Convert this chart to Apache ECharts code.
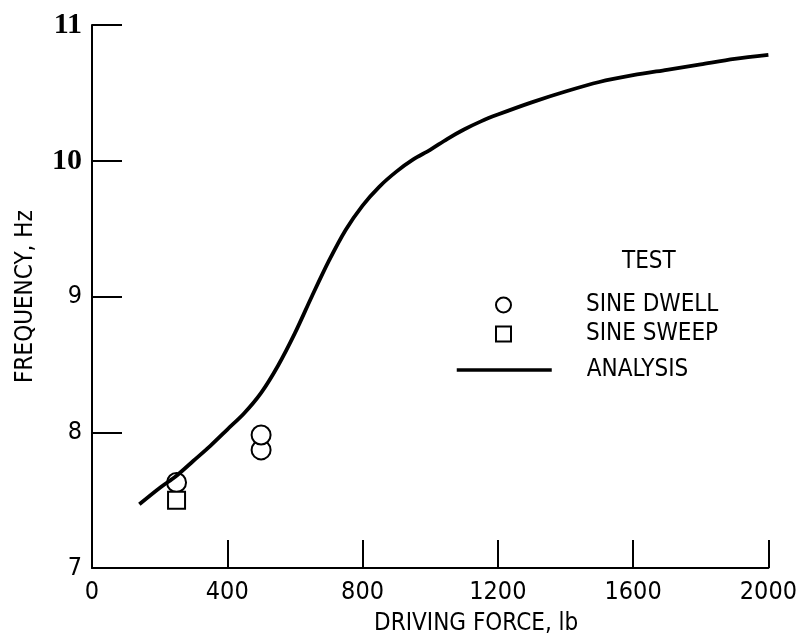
<!DOCTYPE html>
<html>
<head>
<meta charset="utf-8">
<script src="https://cdn.jsdelivr.net/npm/echarts@6/dist/echarts.min.js"></script>
<style>
  html, body { margin: 0; padding: 0; background: #fff; }
  #chart { width: 800px; height: 642px; }
</style>
</head>
<body>
<div id="chart"></div>
<script>
// frequency vs driving force, test points + analysis curve
const xTicks = [0, 400, 800, 1200, 1600, 2000];
const yTicks = [7, 8, 9, 10, 11];

const dwellForce = [250, 500, 500];
const dwellFreq = [7.63, 7.87, 7.98];

const sweepForce = [250];
const sweepFreq = [7.5];

const analysisForce = [140, 200, 250, 300, 350, 400, 450, 500, 550, 600, 650, 700, 750, 800, 850, 900, 950, 1000, 1050, 1100, 1150, 1200, 1300, 1400, 1500, 1600, 1700, 1800, 1900, 2000];
const analysisFreq = [7.47, 7.59, 7.68, 7.79, 7.90, 8.02, 8.14, 8.29, 8.49, 8.73, 9.00, 9.26, 9.49, 9.67, 9.81, 9.92, 10.01, 10.08, 10.16, 10.23, 10.29, 10.34, 10.43, 10.51, 10.58, 10.63, 10.67, 10.71, 10.75, 10.78];

(function(){
  const FONT = "'Liberation Sans Narrow', 'DejaVu Sans Condensed', 'Liberation Sans', sans-serif";
  const pair = (xs, ys) => xs.map((x, i) => [x, ys[i]]);
  const mark = { color: "#fff", borderColor: "#000", borderWidth: 2, opacity: 1 };
  const legendText = { fontFamily: FONT, fontSize: 24, lineHeight: 24, color: "#000", padding: [0, 0, 0, 70] };

  const chart = echarts.init(document.getElementById("chart"), null, { renderer: "canvas" });

  chart.setOption({
    backgroundColor: "#fff",
    animation: false,
    title: {
      text: "TEST", left: 622, top: 250, padding: 0,
      textStyle: { fontFamily: FONT, fontSize: 24, fontWeight: "normal", color: "#000" }
    },
    legend: [{
      data: ["SINE DWELL", "SINE SWEEP"],
      orient: "vertical", left: 495, top: 293, padding: 0,
      itemWidth: 15, itemHeight: 15, itemGap: 5,
      textStyle: legendText
    }, {
      data: ["ANALYSIS"],
      orient: "vertical", left: 455, top: 358, padding: 0,
      itemWidth: 95, itemHeight: 15,
      itemStyle: { opacity: 0 },
      lineStyle: { color: "#000", width: 3.5 },
      textStyle: Object.assign({}, legendText, { padding: [0, 0, 0, 30] })
    }],
    grid: { left: 92, right: 28, top: 25, bottom: 74 },
    xAxis: {
      type: "value", min: xTicks[0], max: xTicks[xTicks.length - 1], interval: 400,
      name: "DRIVING FORCE, lb", nameLocation: "middle", nameGap: 44,
      nameTextStyle: { fontFamily: FONT, fontSize: 24, color: "#000", padding: [0, 0, 0, 92] },
      axisLine: { lineStyle: { color: "#000", width: 2 } },
      axisTick: { inside: true, length: 28, lineStyle: { color: "#000", width: 2 } },
      axisLabel: { margin: 12, fontFamily: FONT, fontSize: 25, color: "#000", formatter: v => String(v) },
      splitLine: { show: false }
    },
    yAxis: {
      type: "value", min: yTicks[0], max: yTicks[yTicks.length - 1], interval: 1,
      name: "FREQUENCY, Hz", nameLocation: "middle", nameGap: 54, nameRotate: 90,
      nameTextStyle: { fontFamily: FONT, fontSize: 24, color: "#000" },
      axisLine: { lineStyle: { color: "#000", width: 2 } },
      axisTick: { inside: true, length: 30, lineStyle: { color: "#000", width: 2 } },
      axisLabel: {
        margin: 10, fontFamily: FONT, fontSize: 25, color: "#000",
        formatter: v => v >= 10 ? "{b|" + v + "}" : String(v),
        rich: { b: { fontFamily: "'Liberation Serif', serif", fontWeight: "bold", fontSize: 30, color: "#000" } }
      },
      splitLine: { show: false }
    },
    series: [{
      name: "ANALYSIS", type: "line", data: pair(analysisForce, analysisFreq),
      smooth: 0.3, symbol: "none",
      lineStyle: { color: "#000", width: 3.8 }, itemStyle: { color: "#000" }
    }, {
      name: "SINE DWELL", type: "scatter", data: pair(dwellForce, dwellFreq),
      symbol: "circle", symbolSize: 19, itemStyle: mark
    }, {
      name: "SINE SWEEP", type: "scatter", data: pair(sweepForce, sweepFreq),
      symbol: "rect", symbolSize: 17, itemStyle: mark
    }]
  });

  window.addEventListener("resize", () => chart.resize());
})();
</script>
</body>
</html>
